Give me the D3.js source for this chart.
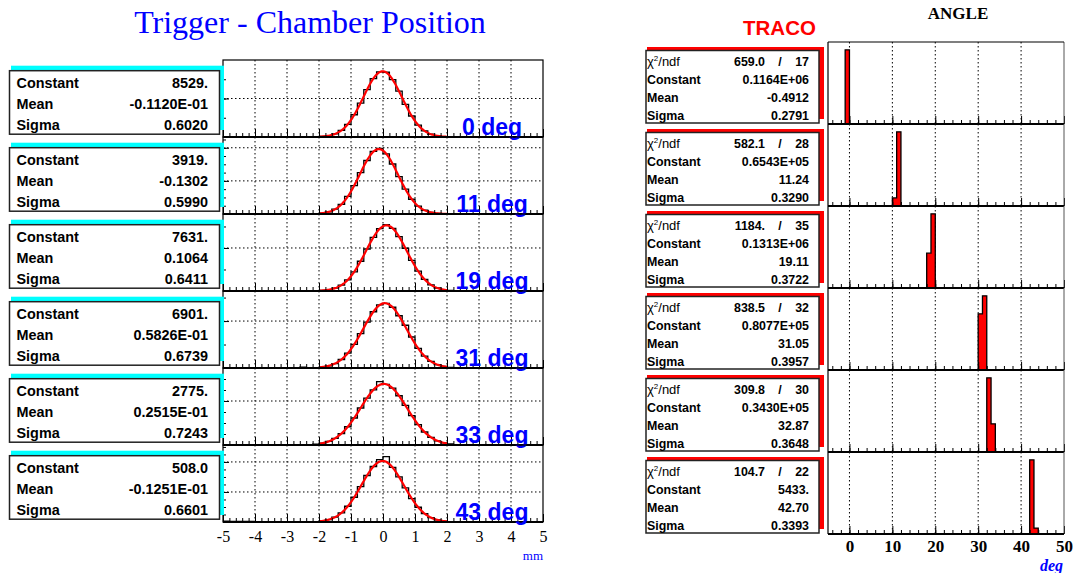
<!DOCTYPE html>
<html>
<head>
<meta charset="utf-8">
<script src="https://cdn.jsdelivr.net/npm/d3@7"></script>
<style>
  body { margin: 0; background: #fff; }
  svg { display: block; }
</style>
</head>
<body>
<svg id="chart" width="1074" height="573"></svg>
<script>
// ---------- data: left column (trigger - chamber position, mm) ----------
var posLabels = ["0 deg", "11 deg", "19 deg", "31 deg", "33 deg", "43 deg"];
var posConstant = [8529, 3919, 7631, 6901, 2775, 508.0];
var posMean = [-0.01120, -0.1302, 0.1064, 0.05826, 0.02515, -0.01251];
var posSigma = [0.6020, 0.5990, 0.6411, 0.6739, 0.7243, 0.6601];
var posConstantText = ["8529.", "3919.", "7631.", "6901.", "2775.", "508.0"];
var posMeanText = ["-0.1120E-01", "-0.1302", "0.1064", "0.5826E-01", "0.2515E-01", "-0.1251E-01"];
var posSigmaText = ["0.6020", "0.5990", "0.6411", "0.6739", "0.7243", "0.6601"];
var posYMax = [10000, 4650, 8950, 8200, 3500, 641];
var posYMajor = [5000, 2000, 5000, 5000, 2000, 250];
var posYMinor = [2500, 500, 2500, 2500, 500, 62.5];
var posTicks = [-5, -4, -3, -2, -1, 0, 1, 2, 3, 4, 5];
var posFitRange = [-2, 2];
var posBinLo = -5, posBinWidth = 0.2;

// 50 bins of 0.2 mm from -5 to 5
var posHist0 = [0,0,0,0,0,0,0,0,0,0,0,1,2, 6,21,62,170,395,870,1650,2890,4410,6150,7580,8460,8410,7440,5960,4230,2730,1540,800,360,150,56,18,6, 2,1,0,0,0,0,0,0,0,0,0,0,0];
var posHist1 = [0,0,0,0,0,0,0,0,0,0,0,1,2, 6,18,50,126,290,580,1060,1710,2500,3230,3780,3960,3630,3020,2260,1500,890,480,225,97,37,13,4,1, 0,0,0,0,0,0,0,0,0,0,0,0,0];
var posHist2 = [0,0,0,0,0,0,0,0,0,0,0,1,3, 7,20,57,144,331,690,1300,2230,3460,4880,6240,7250,7700,7290,6320,4970,3550,2300,1350,718,347,152,61,22, 8,3,1,0,0,0,0,0,0,0,0,0,0];
var posHist3 = [0,0,0,0,0,0,0,0,0,0,10,40,80, 15,41,101,229,476,905,1576,2511,3664,4896,5991,6713,6888,6471,5567,4550,3300,2090,1264,700,355,165,70,27, 10,4,1,0,0,0,0,0,0,0,0,0,0];
var posHist4 = [0,0,0,0,0,0,0,0,5,8,15,20,15, 16,37,81,163,302,520,830,1227,1681,2133,2509,2880,2760,2582,2238,1798,1338,923,590,349,192,97,46,20, 12,8,6,10,5,4,3,0,0,0,0,0,0];
var posHist5 = [8,6,5,4,4,3,3,3,2,2,3,2,2, 1,3,9,19,40,76,131,206,295,387,462,520,545,454,376,284,195,123,70,37,18,7,3,1, 1,1,0,0,0,0,0,0,0,0,0,0,0];

// ---------- data: right column (TRACO angle, deg) ----------
var angChi = ["659.0", "582.1", "1184.", "838.5", "309.8", "104.7"];
var angNdf = ["17", "28", "35", "32", "30", "22"];
var angConstText = ["0.1164E+06", "0.6543E+05", "0.1313E+06", "0.8077E+05", "0.3430E+05", "5433."];
var angMeanText = ["-0.4912", "11.24", "19.11", "31.05", "32.87", "42.70"];
var angSigmaText = ["0.2791", "0.3290", "0.3722", "0.3957", "0.3648", "0.3393"];
var angBinLo = [[-1, 0], [10, 11], [18, 19], [30, 31], [32, 33], [42, 43]];
var angCounts = [[81000, 400], [5300, 48500], [39000, 83000], [34500, 45600], [24500, 9300], [4300, 345]];
var angTicks = [0, 10, 20, 30, 40, 50];
var angBinWidth = 1;

var posHists = [posHist0, posHist1, posHist2, posHist3, posHist4, posHist5];

var sans = "'Liberation Sans', Arial, Helvetica, sans-serif";
var serif = "'Liberation Serif', 'Times New Roman', serif";
var blue = "#0000ff";

var svg = d3.select("#chart");

// titles
svg.append("text")
    .attr("x", 310).attr("y", 33)
    .attr("text-anchor", "middle")
    .attr("font-family", serif).attr("font-size", 32)
    .attr("fill", blue)
    .text("Trigger - Chamber Position");

svg.append("text")
    .attr("x", 743).attr("y", 35)
    .attr("font-family", sans).attr("font-size", 20.5).attr("font-weight", "bold")
    .attr("fill", "#ff0000")
    .text("TRACO");

svg.append("text")
    .attr("x", 958).attr("y", 19)
    .attr("text-anchor", "middle")
    .attr("font-family", serif).attr("font-size", 17).attr("font-weight", "bold")
    .text("ANGLE");

// ---------- left column ----------
var L = { x0: 223, x1: 543, top: 60, h: 77 };
var xPos = d3.scaleLinear().domain([-5, 5]).range([L.x0, L.x1]);

function dotted(sel) {
  sel.attr("stroke", "#000").attr("stroke-width", 1).attr("stroke-dasharray", "1.5,2.5");
}

posLabels.forEach(function(label, i) {
  var top = L.top + i * L.h, bot = top + L.h;
  var y = d3.scaleLinear().domain([0, posYMax[i]]).range([bot, top]);
  var g = svg.append("g");

  // grid
  g.selectAll(".vg")
    .data(posTicks.slice(1, -1))
    .enter().append("line")
      .attr("x1", d => xPos(d)).attr("x2", d => xPos(d))
      .attr("y1", top).attr("y2", bot)
      .call(dotted);

  var majors = d3.range(posYMajor[i], posYMax[i], posYMajor[i]);
  g.selectAll(".hg")
    .data(majors)
    .enter().append("line")
      .attr("x1", L.x0).attr("x2", L.x1)
      .attr("y1", d => y(d)).attr("y2", d => y(d))
      .call(dotted);

  // histogram outline
  var h = posHists[i];
  var pts = h.map((c, k) => [posBinLo + k * posBinWidth, c]);
  pts.push([posBinLo + h.length * posBinWidth, h[h.length - 1]]);
  g.append("path")
    .datum(pts)
    .attr("fill", "none")
    .attr("stroke", "#000")
    .attr("stroke-width", 1.3)
    .attr("d", d3.line().x(d => xPos(d[0])).y(d => y(d[1])).curve(d3.curveStepAfter));

  // gaussian fit
  var C = posConstant[i], m = posMean[i], s = posSigma[i];
  var fx = d3.range(posFitRange[0], posFitRange[1] + 0.001, 0.02);
  g.append("path")
    .datum(fx)
    .attr("fill", "none")
    .attr("stroke", "#ff0000")
    .attr("stroke-width", 2.2)
    .attr("d", d3.line()
        .x(d => xPos(d))
        .y(d => y(C * Math.exp(-0.5 * Math.pow((d - m) / s, 2)))));

  // x ticks (inside, from bottom)
  var xMinor = d3.range(-5, 5.001, 0.2).map(v => Math.round(v * 10) / 10);
  g.append("g")
    .attr("transform", `translate(0,${bot})`)
    .call(d3.axisTop(xPos).tickValues(xMinor).tickSize(4).tickFormat(""))
    .call(a => a.select(".domain").remove());
  g.append("g")
    .attr("transform", `translate(0,${bot})`)
    .call(d3.axisTop(xPos).tickValues(posTicks).tickSize(8).tickFormat(""))
    .call(a => a.select(".domain").remove());

  // y ticks (inside, from left)
  g.append("g")
    .attr("transform", `translate(${L.x0},0)`)
    .call(d3.axisRight(y).tickValues(d3.range(0, posYMax[i], posYMinor[i])).tickSize(3).tickFormat(""))
    .call(a => a.select(".domain").remove());
  g.append("g")
    .attr("transform", `translate(${L.x0},0)`)
    .call(d3.axisRight(y).tickValues(majors).tickSize(6).tickFormat(""))
    .call(a => a.select(".domain").remove());

  // frame
  g.append("rect")
    .attr("x", L.x0).attr("y", top)
    .attr("width", L.x1 - L.x0).attr("height", L.h)
    .attr("fill", "none").attr("stroke", "#000").attr("stroke-width", 1.2);
  g.append("line")
    .attr("x1", L.x0).attr("x2", L.x1)
    .attr("y1", bot).attr("y2", bot)
    .attr("stroke", "#000").attr("stroke-width", 2);

  // stats box with cyan shadow
  var bTop = top + 10.7;
  g.append("rect")
    .attr("x", 11).attr("y", bTop - 5)
    .attr("width", 213).attr("height", 64.3)
    .attr("fill", "#00ffff");
  g.append("rect")
    .attr("x", 9.5).attr("y", bTop)
    .attr("width", 210).attr("height", 63.5)
    .attr("fill", "#fff").attr("stroke", "#222").attr("stroke-width", 1.5);

  var rows = [["Constant", posConstantText[i]], ["Mean", posMeanText[i]], ["Sigma", posSigmaText[i]]];
  rows.forEach(function(r, k) {
    var by = bTop + 17 + k * 21.2;
    g.append("text")
      .attr("x", 16.5).attr("y", by)
      .attr("font-family", sans).attr("font-size", 14.4).attr("font-weight", "bold")
      .text(r[0]);
    g.append("text")
      .attr("x", 208).attr("y", by)
      .attr("text-anchor", "end")
      .attr("font-family", sans).attr("font-size", 14.4).attr("font-weight", "bold")
      .text(r[1]);
  });

  // angle label
  g.append("text")
    .attr("x", 492).attr("y", bot - 2)
    .attr("text-anchor", "middle")
    .attr("font-family", sans).attr("font-size", 23).attr("font-weight", "bold")
    .attr("fill", blue)
    .text(label);
});

// x labels (left)
var lBot = L.top + 6 * L.h;
svg.append("g")
  .attr("transform", `translate(0,${lBot})`)
  .call(d3.axisBottom(xPos).tickValues(posTicks).tickSize(0).tickPadding(9).tickFormat(d => String(d)))
  .call(a => a.select(".domain").remove())
  .call(a => a.selectAll("text").attr("font-family", serif).attr("font-size", 16).attr("fill", "#000"));

svg.append("text")
  .attr("x", 543).attr("y", 560)
  .attr("text-anchor", "end")
  .attr("font-family", serif).attr("font-size", 13)
  .attr("fill", blue)
  .text("mm");

// ---------- right column ----------
var R = { x0: 828, x1: 1064, top: 42, h: 82 };
var xAng = d3.scaleLinear().domain([-5, 50]).range([R.x0, R.x1]);

angChi.forEach(function(chi, i) {
  var top = R.top + i * R.h, bot = top + R.h;
  var cmax = d3.max(angCounts[i]);
  var y = d3.scaleLinear().domain([0, cmax * 1.105]).range([bot, top]);
  var g = svg.append("g");

  // grid
  g.selectAll(".vg")
    .data(angTicks.slice(0, -1))
    .enter().append("line")
      .attr("x1", d => xAng(d)).attr("x2", d => xAng(d))
      .attr("y1", top).attr("y2", bot)
      .call(dotted);

  // filled histogram
  var lo = angBinLo[i], cs = angCounts[i];
  var poly = [[lo[0], 0]];
  cs.forEach(function(c, k) {
    poly.push([lo[k], c]);
    poly.push([lo[k] + angBinWidth, c]);
  });
  poly.push([lo[lo.length - 1] + angBinWidth, 0]);
  g.append("path")
    .datum(poly)
    .attr("fill", "#ff0000")
    .attr("stroke", "#000")
    .attr("stroke-width", 1.3)
    .attr("d", d3.line().x(d => xAng(d[0])).y(d => y(d[1])));

  // x ticks
  g.append("g")
    .attr("transform", `translate(0,${bot})`)
    .call(d3.axisTop(xAng).tickValues(d3.range(-4, 50, 2)).tickSize(4).tickFormat(""))
    .call(a => a.select(".domain").remove());
  g.append("g")
    .attr("transform", `translate(0,${bot})`)
    .call(d3.axisTop(xAng).tickValues(angTicks).tickSize(8).tickFormat(""))
    .call(a => a.select(".domain").remove());

  // frame
  g.append("line")
    .attr("x1", R.x0).attr("x2", R.x0).attr("y1", top).attr("y2", bot)
    .attr("stroke", "#000").attr("stroke-width", 1.2);
  g.append("line")
    .attr("x1", R.x1).attr("x2", R.x1).attr("y1", top).attr("y2", bot)
    .attr("stroke", "#555").attr("stroke-width", 1);
  if (i === 0) {
    g.append("line")
      .attr("x1", R.x0).attr("x2", R.x1).attr("y1", top).attr("y2", top)
      .attr("stroke", "#000").attr("stroke-width", 1.2);
  }
  g.append("line")
    .attr("x1", R.x0).attr("x2", R.x1).attr("y1", bot).attr("y2", bot)
    .attr("stroke", "#000").attr("stroke-width", 2);

  // stats box with red shadow
  var bTop = top + 8.5;
  g.append("rect")
    .attr("x", 647).attr("y", bTop - 3.5)
    .attr("width", 177).attr("height", 72)
    .attr("fill", "#ff0000");
  g.append("rect")
    .attr("x", 646).attr("y", bTop)
    .attr("width", 173).attr("height", 72.5)
    .attr("fill", "#fff").attr("stroke", "#222").attr("stroke-width", 1.5);

  var fs = 12.4;
  var chiLabel = g.append("text")
    .attr("x", 647).attr("y", bTop + 15)
    .attr("font-family", sans).attr("font-size", 13);
  chiLabel.append("tspan").text("\u03c7");
  chiLabel.append("tspan").attr("font-size", 8).attr("dy", -5).text("2");
  chiLabel.append("tspan").attr("dy", 5).text("/ndf");

  g.append("text")
    .attr("x", 765).attr("y", bTop + 15).attr("text-anchor", "end")
    .attr("font-family", sans).attr("font-size", fs).attr("font-weight", "bold")
    .text(chi);
  g.append("text")
    .attr("x", 780).attr("y", bTop + 15).attr("text-anchor", "middle")
    .attr("font-family", sans).attr("font-size", fs).attr("font-weight", "bold")
    .text("/");
  g.append("text")
    .attr("x", 809).attr("y", bTop + 15).attr("text-anchor", "end")
    .attr("font-family", sans).attr("font-size", fs).attr("font-weight", "bold")
    .text(angNdf[i]);

  var rows = [["Constant", angConstText[i]], ["Mean", angMeanText[i]], ["Sigma", angSigmaText[i]]];
  rows.forEach(function(r, k) {
    var by = bTop + 33 + k * 18.2;
    g.append("text")
      .attr("x", 647).attr("y", by)
      .attr("font-family", sans).attr("font-size", fs).attr("font-weight", "bold")
      .text(r[0]);
    g.append("text")
      .attr("x", 809).attr("y", by)
      .attr("text-anchor", "end")
      .attr("font-family", sans).attr("font-size", fs).attr("font-weight", "bold")
      .text(r[1]);
  });
});

// x labels (right)
var rBot = R.top + 6 * R.h;
svg.append("g")
  .attr("transform", `translate(0,${rBot})`)
  .call(d3.axisBottom(xAng).tickValues(angTicks).tickSize(0).tickPadding(6).tickFormat(d => String(d)))
  .call(a => a.select(".domain").remove())
  .call(a => a.selectAll("text").attr("font-family", serif).attr("font-size", 17)
      .attr("font-weight", "bold").attr("fill", "#000"));

svg.append("text")
  .attr("x", 1063).attr("y", 571)
  .attr("text-anchor", "end")
  .attr("font-family", serif).attr("font-size", 16)
  .attr("font-weight", "bold").attr("font-style", "italic")
  .attr("fill", blue)
  .text("deg");
</script>
</body>
</html>
